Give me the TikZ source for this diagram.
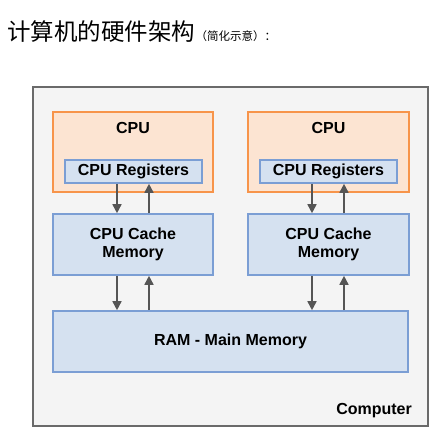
\documentclass[tikz,border=0pt]{standalone}
\usepackage{fontspec}
\setmainfont{Liberation Sans}
\newfontfamily\cjk{Noto Sans CJK SC}
\usetikzlibrary{arrows.meta}
\definecolor{outerfill}{HTML}{F4F4F4}
\definecolor{outerline}{HTML}{6A6A6A}
\definecolor{cpufill}{HTML}{FCE4D2}
\definecolor{cpuline}{HTML}{F7944A}
\definecolor{bluefill}{HTML}{D5E1F0}
\definecolor{blueline}{HTML}{7B9ED4}
\definecolor{arrowcol}{HTML}{555555}
\tikzset{
  lbl/.style={font=\fontsize{16}{18.5}\selectfont\bfseries},
  box/.style={draw, line width=1.6pt, rectangle, inner sep=0pt, lbl, align=center},
  cpubox/.style={box, draw=cpuline, fill=cpufill},
  bluebox/.style={box, draw=blueline, fill=bluefill},
  link/.style={draw=arrowcol, line width=1.6pt, -{Triangle[length=9pt,width=9pt]}},
}
\begin{document}
\begin{tikzpicture}[x=1pt,y=-1pt]
\useasboundingbox[fill=white] (0,0) rectangle (444,436);
% title
\node[anchor=base west, inner sep=0pt, font=\cjk\fontsize{23.5}{26}\selectfont] (title) at (7,41) {计算机的硬件架构};
\node[anchor=base west, inner sep=0pt, font=\cjk\fontsize{11.5}{13}\selectfont] (sub) at (title.base east) {（简化示意）：};
% outer computer box
\node[draw=outerline, fill=outerfill, line width=1.6pt, minimum width=395pt, minimum height=339pt, inner sep=0pt] (comp) at (230.5,256.5) {};
\node[anchor=south east, inner sep=0pt, lbl] (complabel) at (412,418) {Computer};
% CPU 1
\node[cpubox, minimum width=160pt, minimum height=80pt] (cpu1) at (133,152) {};
\node[lbl, inner sep=0pt] (cpu1l) at (133,128) {CPU};
\node[bluebox, minimum width=137pt, minimum height=23pt] (reg1) at (133.5,171.5) {CPU Registers};
\node[bluebox, minimum width=160pt, minimum height=61pt] (cache1) at (133,244.5) {CPU Cache\\Memory};
% CPU 2
\node[cpubox, minimum width=161pt, minimum height=80pt] (cpu2) at (328.5,152) {};
\node[lbl, inner sep=0pt] (cpu2l) at (328.5,128) {CPU};
\node[bluebox, minimum width=137pt, minimum height=23pt] (reg2) at (328.5,171.5) {CPU Registers};
\node[bluebox, minimum width=161pt, minimum height=61pt] (cache2) at (328.5,244.5) {CPU Cache\\Memory};
% RAM
\node[bluebox, minimum width=355pt, minimum height=61pt] (ram) at (230.5,341.5) {RAM - Main Memory};
% arrows
\draw[link] ([xshift=-16.5pt]reg1.south) -- ([xshift=-16.5pt]reg1.south |- cache1.north);
\draw[link] ([xshift=15.5pt]reg1.south |- cache1.north) -- ([xshift=15.5pt]reg1.south);
\draw[link] ([xshift=-16pt]cache1.south) -- ([xshift=-16pt]cache1.south |- ram.north);
\draw[link] ([xshift=16pt]cache1.south |- ram.north) -- ([xshift=16pt]cache1.south);
\draw[link] ([xshift=-16.5pt]reg2.south) -- ([xshift=-16.5pt]reg2.south |- cache2.north);
\draw[link] ([xshift=15.5pt]reg2.south |- cache2.north) -- ([xshift=15.5pt]reg2.south);
\draw[link] ([xshift=-16.5pt]cache2.south) -- ([xshift=-16.5pt]cache2.south |- ram.north);
\draw[link] ([xshift=15.5pt]cache2.south |- ram.north) -- ([xshift=15.5pt]cache2.south);
\end{tikzpicture}
\end{document}
